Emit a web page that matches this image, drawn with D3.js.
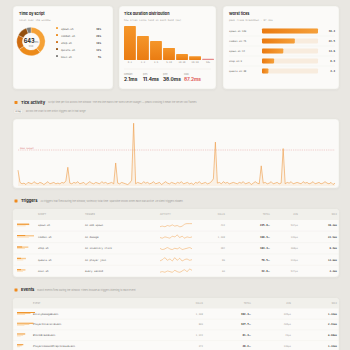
<!DOCTYPE html>
<html>
<head>
<meta charset="utf-8">
<script src="https://cdn.jsdelivr.net/npm/d3@7"></script>
<style>
html, body { margin: 0; padding: 0; background: #e9e7e2; overflow: hidden; }
svg { display: block; }
</style>
</head>
<body>
<svg id="vis"></svg>
<script>
const WIDTH = 350
const HEIGHT = 350
const SANS = "Inter, 'Noto Sans', sans-serif"
const MONO = "'DejaVu Sans Mono', monospace"
const ORANGE = '#ef8a1c'
const INK = '#2a2a2a'
const MUTED = '#a3a09a'
const RED = '#df5a5a'

// --- data ---
const scripts = ['spawn.sh', 'combat.sh', 'shop.sh', 'quests.sh', 'misc.sh']
const scriptTotals = [245.8, 168.3, 104.4, 78.5, 32.8]
const scriptColors = ['#f5a136', '#ec8a1a', '#cf6c10', '#93500f', '#7c7b78']
const windowTotal = 643

const bands = ['0-1', '1-2', '2-5', '5-10', '10-20', '20-50', '50+']
const bandCounts = [1240, 875, 690, 440, 215, 140, 45]

const statLabels = ['Median', 'p95', 'p99', 'Max']
const statValues = [2.1, 11.4, 38.0, 87.2]

const worstLabels = ['spawn.sh:120', 'combat.sh:75', 'spawn.sh:44', 'shop.sh:9', 'quests.sh:38']
const worstValues = [38.4, 22.5, 14.6, 8.3, 4.4]

const budgetMs = 50
const tickMs = [
    22, 5, 3, 4, 2, 5, 4, 3, 6, 4,
    3, 5, 4, 2, 4, 6, 3, 4, 5, 3,
    4, 3, 5, 4, 7, 26, 4, 3, 5, 4,
    6, 3, 4, 5, 2, 4, 6, 4, 3, 5,
    4, 3, 6, 4, 5, 3, 4, 5, 3, 32,
    4, 3, 5, 4, 3, 2, 4, 8, 87.2, 3,
    5, 4, 3, 6, 4, 5, 3, 4, 6, 3,
    4, 5, 2, 4, 6, 4, 3, 5, 4, 3,
    5, 4, 6, 3, 4, 5, 3, 4, 2, 5,
    4, 6, 3, 4, 5, 3, 4, 6, 10, 61,
    4, 5, 3, 6, 4, 5, 3, 4, 5, 4,
    3, 5, 4, 6, 3, 4, 5, 2, 4, 6,
    4, 3, 28, 4, 5, 3, 4, 6, 3, 4,
    5, 3, 4, 52, 3, 5, 4, 6, 3, 4,
    5, 4, 3, 6, 4, 5, 3, 4, 6, 3,
    4, 5, 3, 4, 6, 4, 3, 5, 2, 4
]

const triggerScripts = ['spawn.sh', 'combat.sh', 'shop.sh', 'quests.sh', 'misc.sh']
const triggerNames = ['on mob spawn', 'on damage', 'on inventory click', 'on player join', 'every second']
const triggerCalls = [412, 1208, 284, 86, 60]
const triggerTotals = [245.8, 168.3, 104.4, 78.5, 32.8]
const triggerMax = [38.4, 22.5, 8.3, 14.6, 4.4]
const triggerSparks = [
    [2, 3, 2, 4, 3, 5, 3, 4, 2, 3, 6, 7, 7, 7],
    [3, 2, 4, 3, 2, 5, 4, 7, 3, 5, 2, 4, 3, 4],
    [4, 2, 3, 5, 3, 2, 4, 3, 5, 2, 3, 4, 5, 3],
    [2, 4, 7, 3, 5, 2, 7, 3, 6, 2, 4, 5, 3, 4],
    [2, 3, 2, 4, 3, 2, 5, 3, 2, 4, 6, 3, 7, 5]
]

const eventNames = ['EntityDamageEvent', 'PlayerInteractEvent', 'BlockBreakEvent', 'PlayerCommandPreprocessEvent']
const eventCalls = [1208, 809, 1942, 372]
const eventTotals = [392.4, 327.7, 81.4, 48.2]
const eventMax = [1.42, 2.31, 0.98, 1.42]

const SVG = d3.select('#vis').attr('width', WIDTH).attr('height', HEIGHT)

const defs = SVG.append('defs')
const shadow = defs.append('filter').attr('id', 'shadow')
    .attr('x', '-10%').attr('y', '-10%').attr('width', '120%').attr('height', '130%')
shadow.append('feDropShadow').attr('dx', 0).attr('dy', 0.5).attr('stdDeviation', 0.8)
    .attr('flood-color', '#000').attr('flood-opacity', 0.07)

const barGrad = defs.append('linearGradient').attr('id', 'barGrad')
    .attr('x1', 0).attr('y1', 0).attr('x2', 0).attr('y2', 1)
barGrad.append('stop').attr('offset', 0).attr('stop-color', '#f5962a')
barGrad.append('stop').attr('offset', 1).attr('stop-color', '#ea7c12')

const hGrad = defs.append('linearGradient').attr('id', 'hGrad')
hGrad.append('stop').attr('offset', 0).attr('stop-color', '#ea7a10')
hGrad.append('stop').attr('offset', 1).attr('stop-color', '#f5a03a')

drawBackground()
drawScriptCard()
drawHistogramCard()
drawWorstCard()
drawTickActivity()
drawTriggers()
drawEvents()

function fmtMs(v) { return v.toFixed(1) }
function fmtUs(total, calls) { return Math.round(total / calls * 1000) + 'µs' }

function drawBackground() {
    SVG.append('rect').attr('width', WIDTH).attr('height', HEIGHT).attr('fill', '#e9e7e2')
}

function card(x, y, w, h, id) {
    SVG.append('rect')
        .attr('x', x).attr('y', y).attr('width', w).attr('height', h)
        .attr('rx', 3.5)
        .attr('fill', '#fbfaf8')
        .attr('stroke', '#e4e2dc').attr('stroke-width', 0.4)
        .attr('filter', 'url(#shadow)')
    if (id) {
        defs.append('clipPath').attr('id', id)
            .append('rect').attr('x', x).attr('y', y).attr('width', w).attr('height', h).attr('rx', 3.5)
    }
}

function text(g, x, y, str, opts = {}) {
    return g.append('text')
        .attr('x', x).attr('y', y)
        .attr('font-family', opts.font || SANS)
        .attr('font-size', opts.size || 3)
        .attr('font-weight', opts.weight || 400)
        .attr('fill', opts.fill || INK)
        .attr('text-anchor', opts.anchor || 'start')
        .attr('letter-spacing', opts.spacing || 0)
        .text(str)
}

function cardTitle(x, title, sub) {
    text(SVG, x, 15, title, { size: 3.7, weight: 700 })
    text(SVG, x, 21, sub, { size: 2.5, fill: MUTED, font: MONO })
}

function drawScriptCard() {
    card(13, 6, 100, 83)
    cardTitle(19, 'Time by script', 'total over the window')

    const pie = d3.pie().sort(null).value(d => d)
    const arc = d3.arc().innerRadius(8.6).outerRadius(14.2)
    const g = SVG.append('g').attr('transform', 'translate(31,41.5)')
    g.selectAll('path')
        .data(pie(scriptTotals))
        .join('path')
        .attr('d', arc)
        .attr('fill', (d, i) => scriptColors[i])
        .attr('stroke', '#fbfaf8').attr('stroke-width', 0.3)

    const c = g.append('text').attr('text-anchor', 'middle').attr('y', 1)
        .attr('font-family', SANS).attr('fill', INK)
    c.append('tspan').attr('font-size', 5.6).attr('font-weight', 700).text(windowTotal)
    c.append('tspan').attr('font-size', 2.6).attr('fill', '#777').text('ms')
    text(g, 0, 5.2, 'total', { size: 2.3, fill: MUTED, anchor: 'middle' })

    const rows = d3.scalePoint().domain(d3.range(scripts.length)).range([29, 57])
    const leg = SVG.append('g')
    scripts.forEach((s, i) => {
        leg.append('rect').attr('x', 56).attr('y', rows(i) - 2).attr('width', 2).attr('height', 2)
            .attr('rx', 0.4).attr('fill', scriptColors[i])
        text(leg, 61, rows(i) + 0.9, s, { size: 2.6, font: MONO, fill: '#555' })
        text(leg, 101, rows(i) + 0.9, Math.round(scriptTotals[i] / windowTotal * 100) + '%',
            { size: 2.6, font: MONO, fill: '#444', anchor: 'end', weight: 700 })
    })
}

function drawHistogramCard() {
    card(119, 6, 97, 83)
    cardTitle(124, 'Tick duration distribution', 'how often ticks land in each band (ms)')

    const x = d3.scaleBand().domain(bands).range([124, 214]).paddingInner(0.09)
    const y = d3.scaleLinear().domain([0, d3.max(bandCounts)]).range([60, 26])

    SVG.append('g').selectAll('rect')
        .data(bands)
        .join('rect')
        .attr('x', d => x(d))
        .attr('y', (d, i) => y(bandCounts[i]))
        .attr('width', x.bandwidth())
        .attr('height', (d, i) => 60 - y(bandCounts[i]))
        .attr('rx', 0.4)
        .attr('fill', (d, i) => i === bands.length - 1 ? '#e58a8a' : 'url(#barGrad)')

    const axis = d3.axisBottom(x).tickSize(0).tickPadding(1.2)
    const ag = SVG.append('g').attr('transform', 'translate(0,60)').call(axis)
    ag.select('.domain').remove()
    ag.attr('font-size', null)
    ag.selectAll('text').attr('font-family', MONO).attr('font-size', 2.3).attr('fill', '#8f8c86')

    SVG.append('line').attr('x1', 124).attr('x2', 211).attr('y1', 69).attr('y2', 69)
        .attr('stroke', '#eceae5').attr('stroke-width', 0.5)

    const sx = [124, 143, 163, 184]
    statLabels.forEach((l, i) => {
        text(SVG, sx[i], 74.5, l, { size: 2.4, fill: MUTED })
        const t = SVG.append('text').attr('x', sx[i]).attr('y', 81)
            .attr('font-family', SANS).attr('font-weight', 700)
            .attr('fill', i === statLabels.length - 1 ? RED : INK)
        t.append('tspan').attr('font-size', 4.8).text(fmtMs(statValues[i]) + 'ms')
    })
}

function drawWorstCard() {
    card(223, 6, 116, 83)
    cardTitle(229, 'Worst ticks', 'peak frame breakdown · 87.2ms')

    const rows = d3.scalePoint().domain(d3.range(worstLabels.length)).range([31, 71])
    const x = d3.scaleLinear().domain([0, d3.max(worstValues)]).range([0, 56])
    const g = SVG.append('g')
    worstLabels.forEach((l, i) => {
        const cy = rows(i)
        text(g, 229, cy + 0.9, l, { size: 2.4, font: MONO, fill: '#555' })
        g.append('rect').attr('x', 262).attr('y', cy - 2.6).attr('width', 56).attr('height', 5)
            .attr('rx', 0.8).attr('fill', '#f8ecde')
        g.append('rect').attr('x', 262).attr('y', cy - 2.6).attr('width', x(worstValues[i])).attr('height', 5)
            .attr('rx', 0.8).attr('fill', 'url(#hGrad)')
        text(g, 335, cy + 0.9, worstValues[i].toFixed(1), { size: 2.6, font: MONO, weight: 700, anchor: 'end', fill: '#444' })
        if (i < worstLabels.length - 1) {
            g.append('line').attr('x1', 229).attr('x2', 335).attr('y1', cy + 5).attr('y2', cy + 5)
                .attr('stroke', '#f0eee9').attr('stroke-width', 0.4)
        }
    })
}

function sectionHeader(y, title, desc) {
    SVG.append('rect').attr('x', 14.5).attr('y', y - 2.6).attr('width', 3).attr('height', 3)
        .attr('rx', 0.4).attr('fill', ORANGE)
    const t = text(SVG, 21, y, title, { size: 4, weight: 700 })
    const w = t.node().getComputedTextLength()
    text(SVG, 21 + w + 3, y - 0.2, desc, { size: 2.4, fill: MUTED })
}

function drawTickActivity() {
    sectionHeader(103.5, 'Tick activity',
        'Script time per tick across the window. The red line marks the 50ms server budget — peaks crossing it mean the server lost frames.')
    SVG.append('rect').attr('x', 14).attr('y', 109.5).attr('width', 8.5).attr('height', 4)
        .attr('rx', 0.8).attr('fill', '#f2f0eb').attr('stroke', '#d9d6cf').attr('stroke-width', 0.3)
    text(SVG, 18.25, 112.3, 'Drag', { size: 2.2, anchor: 'middle', fill: '#666', font: MONO })
    text(SVG, 26, 112.3, 'across the chart to see which triggers ran in that range.', { size: 2.3, fill: MUTED })

    card(13, 119, 326, 69)

    const x = d3.scaleLinear().domain([0, tickMs.length - 1]).range([18, 335])
    const y = d3.scaleLinear().domain([0, 90]).range([186, 121.2])

    SVG.append('line').attr('x1', 18).attr('x2', 335).attr('y1', y(budgetMs)).attr('y2', y(budgetMs))
        .attr('stroke', '#e49494').attr('stroke-width', 0.45).attr('stroke-dasharray', '1.2,1')
    text(SVG, 20, y(budgetMs) - 1.2, '50ms budget', { size: 2.1, fill: '#d97070', font: MONO })

    const area = d3.area().x((d, i) => x(i)).y0(y(0)).y1(d => y(d))
    SVG.append('path').datum(tickMs).attr('d', area).attr('fill', '#f6b36a').attr('opacity', 0.12)

    const line = d3.line().x((d, i) => x(i)).y(d => y(d))
    SVG.append('path').datum(tickMs).attr('d', line)
        .attr('fill', 'none').attr('stroke', '#ee9b45').attr('stroke-width', 0.6)
        .attr('stroke-linejoin', 'round')
}

function tableHeader(y0, y1, clipId, cols) {
    SVG.append('rect').attr('x', 13).attr('y', y0).attr('width', 326).attr('height', y1 - y0)
        .attr('fill', '#f1f0eb').attr('clip-path', `url(#${clipId})`)
    cols.forEach(([label, cx, anchor]) => {
        text(SVG, cx, (y0 + y1) / 2 + 0.8, label, { size: 2.1, fill: MUTED, anchor, spacing: 0.15 })
    })
}

function drawTriggers() {
    sectionHeader(202, 'Triggers',
        'All triggers that fired during the window, sorted by total time. Sparkline shows when each was active. 29 silent triggers hidden.')
    card(13, 209, 326, 68, 'clipTrig')
    tableHeader(209, 220, 'clipTrig', [
        ['SCRIPT', 38, 'start'], ['TRIGGER', 85, 'start'], ['ACTIVITY', 160, 'start'],
        ['CALLS', 225, 'end'], ['TOTAL', 270, 'end'], ['AVG', 298, 'end'], ['MAX', 337, 'end']
    ])

    const rows = d3.scalePoint().domain(d3.range(triggerScripts.length)).range([225.5, 271])
    const bw = d3.scaleSqrt().domain([0, d3.max(triggerCalls)]).range([6, 17])
    const bt = d3.scaleLinear().domain([0, d3.max(triggerTotals)]).range([0, 12])
    const g = SVG.append('g')
    triggerScripts.forEach((s, i) => {
        const cy = rows(i)
        if (i > 0) {
            g.append('line').attr('x1', 13).attr('x2', 339).attr('y1', cy - 5.7).attr('y2', cy - 5.7)
                .attr('stroke', '#efede8').attr('stroke-width', 0.4)
        }
        g.append('rect').attr('x', 17).attr('y', cy - 1.8).attr('width', bw(triggerCalls[i])).attr('height', 1.4)
            .attr('fill', '#f8c98f')
        g.append('rect').attr('x', 17).attr('y', cy - 1.8).attr('width', Math.max(4, bt(triggerTotals[i]))).attr('height', 1)
            .attr('fill', '#f0952c')
        g.append('rect').attr('x', 17).attr('y', cy - 0.2).attr('width', bw(triggerCalls[i]) * 0.7).attr('height', 1)
            .attr('fill', '#fbe0bd')
        text(g, 38, cy + 0.9, s, { size: 2.5, font: MONO, fill: '#555' })
        text(g, 85, cy + 0.9, triggerNames[i], { size: 2.5, font: MONO, fill: '#555' })

        const sx = d3.scaleLinear().domain([0, triggerSparks[i].length - 1]).range([160, 192])
        const sy = d3.scaleLinear().domain([0, 8]).range([cy + 2.5, cy - 2.5])
        g.append('path').datum(triggerSparks[i])
            .attr('d', d3.line().x((d, j) => sx(j)).y(d => sy(d)).curve(d3.curveMonotoneX))
            .attr('fill', 'none').attr('stroke', '#f0a04c').attr('stroke-width', 0.5)

        text(g, 225, cy + 0.9, d3.format(',')(triggerCalls[i]), { size: 2.4, font: MONO, fill: MUTED, anchor: 'end' })
        const tt = g.append('text').attr('x', 270).attr('y', cy + 0.9).attr('text-anchor', 'end')
            .attr('font-family', MONO).attr('fill', '#333')
        tt.append('tspan').attr('font-size', 2.6).attr('font-weight', 700).text(fmtMs(triggerTotals[i]))
        tt.append('tspan').attr('font-size', 1.9).attr('fill', '#777').text('ms')
        text(g, 298, cy + 0.9, fmtUs(triggerTotals[i], triggerCalls[i]), { size: 2.4, font: MONO, fill: MUTED, anchor: 'end' })
        text(g, 337, cy + 0.9, fmtMs(triggerMax[i]) + 'ms', { size: 2.5, font: MONO, fill: '#333', anchor: 'end', weight: 700 })
    })
}

function drawEvents() {
    sectionHeader(291, 'Events',
        'Bukkit events fired during the window. Times include all triggers listening to each event.')
    card(13, 298, 326, 70, 'clipEvt')
    tableHeader(298, 308.5, 'clipEvt', [
        ['EVENT', 33, 'start'], ['CALLS', 203, 'end'], ['TOTAL', 251, 'end'], ['AVG', 291, 'end'], ['MAX', 337, 'end']
    ])

    const rows = d3.scalePoint().domain(d3.range(eventNames.length)).range([313.8, 346])
    const bw = d3.scaleSqrt().domain([0, d3.max(eventTotals)]).range([0, 18])
    const g = SVG.append('g')
    eventNames.forEach((n, i) => {
        const cy = rows(i)
        if (i > 0) {
            g.append('line').attr('x1', 13).attr('x2', 339).attr('y1', cy - 5.4).attr('y2', cy - 5.4)
                .attr('stroke', '#efede8').attr('stroke-width', 0.4)
        }
        g.append('rect').attr('x', 17).attr('y', cy - 1.8).attr('width', bw(eventTotals[i])).attr('height', 1)
            .attr('fill', '#f0952c')
        g.append('rect').attr('x', 17).attr('y', cy - 0.8).attr('width', bw(eventTotals[i]) * 0.75).attr('height', 1)
            .attr('fill', '#f8c98f')
        g.append('rect').attr('x', 17).attr('y', cy + 0.2).attr('width', bw(eventTotals[i]) * 0.45).attr('height', 1)
            .attr('fill', '#fbe0bd')
        text(g, 33, cy + 0.9, n, { size: 2.5, font: MONO, fill: '#555' })
        text(g, 203, cy + 0.9, d3.format(',')(eventCalls[i]), { size: 2.4, font: MONO, fill: MUTED, anchor: 'end' })
        const tt = g.append('text').attr('x', 251).attr('y', cy + 0.9).attr('text-anchor', 'end')
            .attr('font-family', MONO).attr('fill', '#333')
        tt.append('tspan').attr('font-size', 2.6).attr('font-weight', 700).text(fmtMs(eventTotals[i]))
        tt.append('tspan').attr('font-size', 1.9).attr('fill', '#777').text('ms')
        text(g, 291, cy + 0.9, fmtUs(eventTotals[i], eventCalls[i]), { size: 2.4, font: MONO, fill: MUTED, anchor: 'end' })
        text(g, 337, cy + 0.9, eventMax[i].toFixed(2) + 'ms', { size: 2.5, font: MONO, fill: '#333', anchor: 'end', weight: 700 })
    })
}
</script>
</body>
</html>
